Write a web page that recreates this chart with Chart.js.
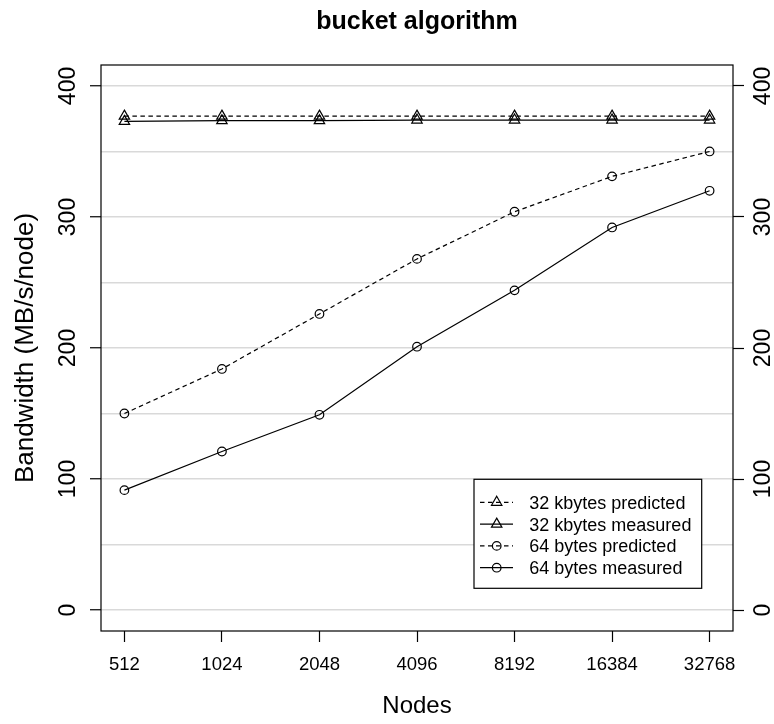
<!DOCTYPE html>
<html>
<head>
<meta charset="utf-8">
<script src="https://cdn.jsdelivr.net/npm/chart.js@4/dist/chart.umd.min.js"></script>
<style>
  html, body { margin: 0; padding: 0; background: #ffffff; }
  #wrap { width: 774px; height: 724px; }
</style>
</head>
<body>
<div id="wrap"><canvas id="chart" width="774" height="724"></canvas></div>
<script>
// Node counts along the x axis (evenly spaced, one slot per power of two)
const nodes = ['512', '1024', '2048', '4096', '8192', '16384', '32768'];

// Bandwidth per node, MB/s
const kb32Predicted = [377, 377, 377, 377, 377, 377, 377];
const kb32Measured  = [373, 373.5, 373.5, 374, 374, 374, 374];
const b64Predicted  = [150, 184, 226, 268, 304, 331, 350];
const b64Measured   = [91.5, 121, 149, 201, 244, 292, 320];

// Axis ticks
const yTickValues = [0, 100, 200, 300, 400];
const yGridValues = [0, 50, 100, 150, 200, 250, 300, 350, 400];

const seriesNames = ['32 kbytes predicted', '32 kbytes measured', '64 bytes predicted', '64 bytes measured'];
const chartTitle = 'bucket algorithm';
const xTitle = 'Nodes';
const yTitle = 'Bandwidth (MB/s/node)';

const FONT = '"Liberation Sans", Arial, Helvetica, sans-serif';
const DASH = [4.5, 3.5];

const toPoints = arr => arr.map((v, i) => ({ x: i, y: v }));

function series(label, values, dashed, shape, radius) {
  return {
    label: label,
    data: toPoints(values),
    borderColor: '#000000',
    borderWidth: 1.2,
    borderDash: dashed ? DASH : [],
    fill: false,
    tension: 0,
    pointStyle: shape,
    pointRadius: radius,
    pointHoverRadius: radius,
    pointBorderColor: '#000000',
    pointBackgroundColor: 'rgba(0,0,0,0)',
    pointBorderWidth: 1.2
  };
}

const datasets = [
  series(seriesNames[0], kb32Predicted, true, 'triangle', 6),
  series(seriesNames[1], kb32Measured, false, 'triangle', 6),
  series(seriesNames[2], b64Predicted, true, 'circle', 4.3),
  series(seriesNames[3], b64Measured, false, 'circle', 4.3)
];

const setTicks = values => scale => { scale.ticks = values.map(v => ({ value: v })); };

// Frame, titles, rotated y tick labels and the legend box
const decorations = {
  id: 'decorations',
  beforeDraw(chart) {
    const ctx = chart.ctx;
    ctx.save();
    ctx.fillStyle = '#ffffff';
    ctx.fillRect(0, 0, chart.width, chart.height);
    ctx.restore();
  },
  afterDraw(chart) {
    const ctx = chart.ctx;
    const a = chart.chartArea;
    const ys = chart.scales.y;
    const cx = (a.left + a.right) / 2;
    const cy = (a.top + a.bottom) / 2;
    ctx.save();

    // plot frame
    ctx.strokeStyle = '#000000';
    ctx.lineWidth = 1.2;
    ctx.strokeRect(a.left, a.top, a.right - a.left, a.bottom - a.top);

    ctx.fillStyle = '#000000';
    ctx.textAlign = 'center';
    ctx.textBaseline = 'alphabetic';

    // main title
    ctx.font = 'bold 25px ' + FONT;
    ctx.fillText(chartTitle, cx, 29);

    // x axis title
    ctx.font = '24px ' + FONT;
    ctx.fillText(xTitle, cx, 713);

    // y axis title
    ctx.save();
    ctx.translate(33, cy);
    ctx.rotate(-Math.PI / 2);
    ctx.font = '26px ' + FONT;
    ctx.fillText(yTitle, 0, 0);
    ctx.restore();

    // y tick labels, parallel to the axis, on both sides
    ctx.font = '23px ' + FONT;
    yTickValues.forEach(v => {
      const py = ys.getPixelForValue(v);
      [75, 770].forEach(px => {
        ctx.save();
        ctx.translate(px, py);
        ctx.rotate(-Math.PI / 2);
        ctx.fillText(String(v), 0, 0);
        ctx.restore();
      });
    });

    // legend
    const box = { left: 474, top: 479.3, right: 701.7, bottom: 588.3 };
    ctx.fillStyle = '#ffffff';
    ctx.fillRect(box.left, box.top, box.right - box.left, box.bottom - box.top);
    ctx.strokeStyle = '#000000';
    ctx.lineWidth = 1.2;
    ctx.strokeRect(box.left, box.top, box.right - box.left, box.bottom - box.top);

    ctx.font = '18px ' + FONT;
    ctx.textAlign = 'left';
    chart.data.datasets.forEach((ds, i) => {
      const ry = 502.3 + i * 21.8;
      ctx.strokeStyle = '#000000';
      ctx.lineWidth = ds.borderWidth;
      ctx.setLineDash(ds.borderDash);
      ctx.beginPath();
      ctx.moveTo(480, ry);
      ctx.lineTo(513, ry);
      ctx.stroke();
      ctx.setLineDash([]);
      ctx.fillStyle = 'rgba(0,0,0,0)';
      ctx.strokeStyle = ds.pointBorderColor;
      ctx.lineWidth = ds.pointBorderWidth;
      Chart.helpers.drawPoint(ctx, {
        pointStyle: ds.pointStyle,
        radius: ds.pointRadius,
        rotation: 0,
        borderWidth: ds.pointBorderWidth
      }, 496.7, ry);
      ctx.fillStyle = '#000000';
      ctx.fillText(ds.label, 529.3, ry + 6.5);
    });

    ctx.restore();
  }
};

new Chart(document.getElementById('chart'), {
  type: 'line',
  data: { datasets: datasets },
  options: {
    responsive: false,
    maintainAspectRatio: false,
    devicePixelRatio: 1,
    animation: false,
    layout: { padding: { top: 65, left: 0, right: 0, bottom: 0 } },
    plugins: {
      legend: { display: false },
      title: { display: false },
      tooltip: { enabled: false }
    },
    scales: {
      x: {
        type: 'linear',
        position: 'bottom',
        min: -0.24,
        max: 6.24,
        afterBuildTicks: setTicks(nodes.map((_, i) => i)),
        afterFit: s => { s.height = 93; },
        border: { display: false },
        grid: {
          drawOnChartArea: false,
          drawTicks: true,
          tickLength: 11,
          tickColor: '#000000',
          tickWidth: 1.2
        },
        ticks: {
          autoSkip: false,
          maxRotation: 0,
          minRotation: 0,
          padding: 12,
          color: '#000000',
          font: { family: FONT, size: 18.5 },
          callback: v => nodes[v]
        }
      },
      y: {
        type: 'linear',
        position: 'left',
        min: -16,
        max: 416,
        afterBuildTicks: setTicks(yGridValues),
        afterFit: s => { s.width = 101; },
        border: { display: false },
        grid: {
          drawOnChartArea: true,
          drawTicks: true,
          tickLength: 11,
          color: '#d9d9d9',
          lineWidth: 1.5,
          tickColor: ctx => (ctx.tick && ctx.tick.value % 100 === 0) ? '#000000' : 'rgba(0,0,0,0)',
          tickWidth: 1.2
        },
        ticks: { display: false }
      },
      y2: {
        type: 'linear',
        position: 'right',
        min: -16,
        max: 416,
        afterBuildTicks: setTicks(yTickValues),
        afterFit: s => { s.width = 41; },
        border: { display: false },
        grid: {
          drawOnChartArea: false,
          drawTicks: true,
          tickLength: 11,
          tickColor: '#000000',
          tickWidth: 1.2
        },
        ticks: { display: false }
      }
    }
  },
  plugins: [decorations]
});
</script>
</body>
</html>
